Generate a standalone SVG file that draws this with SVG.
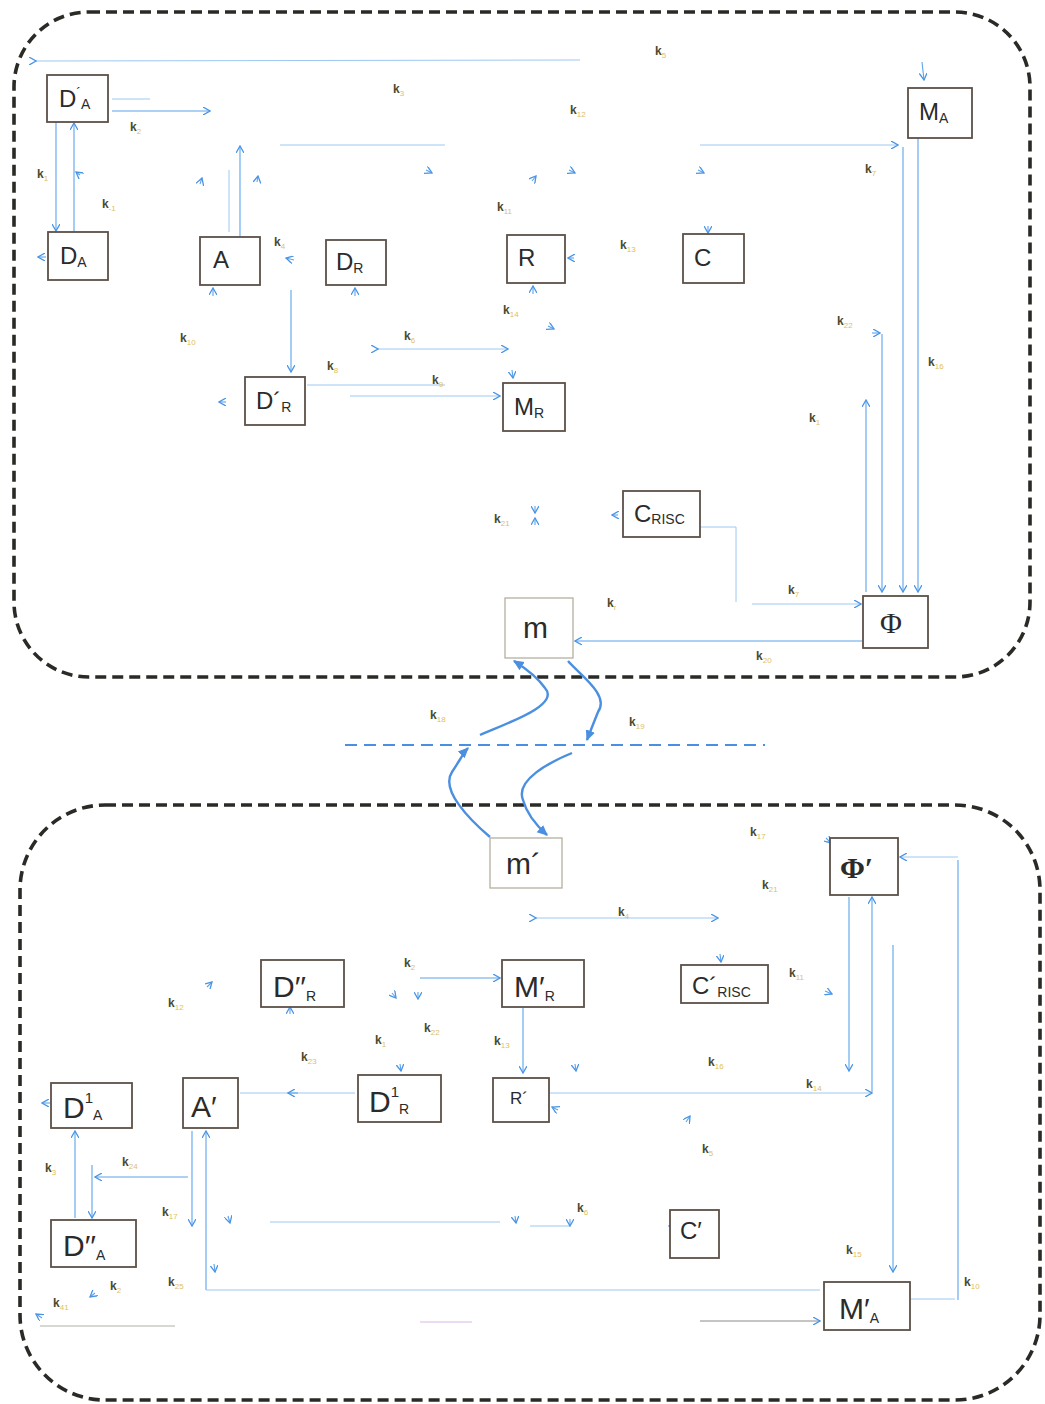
<svg xmlns="http://www.w3.org/2000/svg" width="1045" height="1404" viewBox="0 0 1045 1404">
<defs>
<marker id="ah" viewBox="0 0 8 8" refX="7" refY="4" markerWidth="8" markerHeight="8" orient="auto" markerUnits="userSpaceOnUse"><path d="M0,0 L7,4 L0,8" fill="none" stroke="#4a94e6" stroke-width="1.3"/></marker>
<marker id="ahb" viewBox="0 0 10 10" refX="8" refY="5" markerWidth="12" markerHeight="12" orient="auto" markerUnits="userSpaceOnUse"><path d="M0,1 L9,5 L0,9 Z" fill="#4a8fe0"/></marker>
<style>
.frame{fill:none;stroke:#2a2a26;stroke-width:3.6;stroke-dasharray:11 6}
.node rect{fill:#fff;stroke:#5c5048;stroke-width:1.8}
.lbl{font-family:"Liberation Sans",Arial,sans-serif;font-size:24px;fill:#2b2b2b}
.big{font-size:30px}
.phi{font-family:"Liberation Serif","Times New Roman",serif;font-size:30px}
.sub{font-size:14px}
.sup{font-size:15px}
.k{font-family:"Liberation Sans",Arial,sans-serif;font-size:12px;font-weight:bold;fill:#4a4a30}
.ks{font-size:8px;fill:#e0c060;font-weight:normal}
.c{fill:none;stroke:#5aa4ec;stroke-width:1.1}
.cf{fill:none;stroke:#9cc8f2;stroke-width:1}
.cw{fill:none;stroke:#4a8fe0;stroke-width:2.4}
.light rect{stroke:#b0a898;stroke-width:1.2}
</style>
</defs>
<rect width="1045" height="1404" fill="#fff"/>

<g id="frames">
<rect class="frame" x="14" y="12" width="1016" height="665" rx="75" ry="75"/>
<rect class="frame" x="20" y="805" width="1020" height="595" rx="85" ry="85"/>
<line x1="345" y1="745" x2="765" y2="745" stroke="#4a8fe0" stroke-width="2.2" stroke-dasharray="12 7"/>
</g>

<g id="connectors">
<line class="cf" x1="36" y1="61" x2="580" y2="60" marker-start="url(#ah)"/>
<line class="c" x1="922" y1="62" x2="924" y2="80" marker-end="url(#ah)"/>
<line class="c" x1="112" y1="111" x2="210" y2="111" marker-end="url(#ah)"/>
<line class="cf" x1="112" y1="99" x2="150" y2="99"/>
<line class="c" x1="56" y1="122" x2="56" y2="231" marker-end="url(#ah)"/>
<line class="c" x1="74" y1="232" x2="74" y2="123" marker-end="url(#ah)"/>
<line class="c" x1="240" y1="237" x2="240" y2="146" marker-end="url(#ah)"/>
<line class="cf" x1="229" y1="170" x2="229" y2="232"/>
<line class="cf" x1="280" y1="145" x2="445" y2="145"/>
<line class="cf" x1="700" y1="145" x2="898" y2="145" marker-end="url(#ah)"/>
<line class="c" x1="903" y1="147" x2="903" y2="592" marker-end="url(#ah)"/>
<line class="c" x1="918" y1="138" x2="918" y2="592" marker-end="url(#ah)"/>
<line class="c" x1="882" y1="334" x2="882" y2="592" marker-end="url(#ah)"/>
<line class="c" x1="872" y1="333" x2="880" y2="333" marker-end="url(#ah)"/>
<line class="c" x1="866" y1="592" x2="866" y2="400" marker-end="url(#ah)"/>
<polyline class="cf" points="701,527 736,527 736,602"/>
<line class="cf" x1="752" y1="604" x2="861" y2="604" marker-end="url(#ah)"/>
<line class="c" x1="862" y1="641" x2="575" y2="641" marker-end="url(#ah)"/>
<line class="c" x1="291" y1="290" x2="291" y2="372" marker-end="url(#ah)"/>
<line class="cf" x1="307" y1="385" x2="445" y2="385"/>
<line class="cf" x1="378" y1="349" x2="508" y2="349" marker-start="url(#ah)" marker-end="url(#ah)"/>
<line class="cf" x1="350" y1="396" x2="500" y2="396" marker-end="url(#ah)"/>
<line class="c" x1="512" y1="370" x2="513" y2="378" marker-end="url(#ah)"/>
<line class="c" x1="355" y1="296" x2="355" y2="288" marker-end="url(#ah)"/>
<line class="c" x1="533" y1="294" x2="533" y2="286" marker-end="url(#ah)"/>
<line class="c" x1="213" y1="296" x2="213" y2="288" marker-end="url(#ah)"/>
<line class="c" x1="574" y1="258" x2="568" y2="258" marker-end="url(#ah)"/>
<line class="c" x1="708" y1="226" x2="708" y2="233" marker-end="url(#ah)"/>
<line class="c" x1="46" y1="257" x2="38" y2="257" marker-end="url(#ah)"/>
<line class="c" x1="226" y1="402" x2="219" y2="402" marker-end="url(#ah)"/>
<line class="c" x1="294" y1="260" x2="286" y2="258" marker-end="url(#ah)"/>
<line class="c" x1="80" y1="175" x2="76" y2="172" marker-end="url(#ah)"/>
<line class="c" x1="200" y1="184" x2="202" y2="178" marker-end="url(#ah)"/>
<line class="c" x1="257" y1="182" x2="258" y2="176" marker-end="url(#ah)"/>
<line class="c" x1="426" y1="170" x2="432" y2="173" marker-end="url(#ah)"/>
<line class="c" x1="532" y1="181" x2="536" y2="176" marker-end="url(#ah)"/>
<line class="c" x1="569" y1="170" x2="575" y2="173" marker-end="url(#ah)"/>
<line class="c" x1="698" y1="170" x2="704" y2="173" marker-end="url(#ah)"/>
<line class="c" x1="548" y1="326" x2="554" y2="329" marker-end="url(#ah)"/>
<line class="c" x1="535" y1="506" x2="535" y2="513" marker-end="url(#ah)"/>
<line class="c" x1="535" y1="525" x2="535" y2="518" marker-end="url(#ah)"/>
<line class="c" x1="618" y1="515" x2="612" y2="515" marker-end="url(#ah)"/>
<line class="c" x1="916" y1="92" x2="909" y2="98" marker-end="url(#ah)"/>
<path class="cw" d="M490,837 C470,820 440,790 452,772 C460,760 464,752 468,748" marker-end="url(#ahb)"/>
<path class="cw" d="M480,735 C510,722 560,705 545,688 C538,678 525,668 514,661" marker-end="url(#ahb)"/>
<path class="cw" d="M568,661 C580,675 610,695 598,712 C594,722 590,732 587,740" marker-end="url(#ahb)"/>
<path class="cw" d="M572,753 C550,762 515,780 523,800 C527,815 537,826 547,835" marker-end="url(#ahb)"/>
<line class="cf" x1="536" y1="918" x2="718" y2="918" marker-start="url(#ah)" marker-end="url(#ah)"/>
<line class="c" x1="720" y1="954" x2="721" y2="962" marker-end="url(#ah)"/>
<line class="c" x1="420" y1="978" x2="500" y2="978" marker-end="url(#ah)"/>
<line class="c" x1="523" y1="1008" x2="523" y2="1073" marker-end="url(#ah)"/>
<line class="cf" x1="550" y1="1093" x2="872" y2="1093" marker-end="url(#ah)"/>
<line class="c" x1="872" y1="1092" x2="872" y2="897" marker-end="url(#ah)"/>
<line class="c" x1="849" y1="897" x2="849" y2="1071" marker-end="url(#ah)"/>
<line class="c" x1="893" y1="945" x2="893" y2="1272" marker-end="url(#ah)"/>
<line class="c" x1="958" y1="860" x2="958" y2="1300"/>
<line class="cf" x1="958" y1="857" x2="900" y2="857" marker-end="url(#ah)"/>
<line class="cf" x1="910" y1="1299" x2="955" y2="1299"/>
<line class="c" x1="826" y1="838" x2="831" y2="843" marker-end="url(#ah)"/>
<line class="c" x1="825" y1="991" x2="832" y2="994" marker-end="url(#ah)"/>
<line class="cf" x1="240" y1="1093" x2="355" y2="1093"/>
<line class="c" x1="298" y1="1093" x2="288" y2="1093" marker-end="url(#ah)"/>
<line class="c" x1="290" y1="1014" x2="290" y2="1007" marker-end="url(#ah)"/>
<line class="c" x1="207" y1="987" x2="212" y2="982" marker-end="url(#ah)"/>
<line class="c" x1="50" y1="1103" x2="42" y2="1103" marker-end="url(#ah)"/>
<line class="c" x1="75" y1="1218" x2="75" y2="1131" marker-end="url(#ah)"/>
<line class="c" x1="92" y1="1165" x2="92" y2="1218" marker-end="url(#ah)"/>
<line class="c" x1="188" y1="1177" x2="95" y2="1177" marker-end="url(#ah)"/>
<line class="c" x1="192" y1="1131" x2="192" y2="1226" marker-end="url(#ah)"/>
<line class="c" x1="206" y1="1290" x2="206" y2="1131" marker-end="url(#ah)"/>
<line class="cf" x1="206" y1="1290" x2="820" y2="1290"/>
<line class="c" x1="214" y1="1264" x2="215" y2="1272" marker-end="url(#ah)"/>
<line x1="40" y1="1326" x2="175" y2="1326" stroke="#b0b0a8" stroke-width="1.1"/>
<line class="c" x1="42" y1="1318" x2="36" y2="1314" marker-end="url(#ah)"/>
<line class="c" x1="95" y1="1293" x2="90" y2="1297" marker-end="url(#ah)"/>
<line x1="700" y1="1321" x2="820" y2="1321" stroke="#8a8a86" stroke-width="1" marker-end="url(#ah)"/>
<line x1="420" y1="1322" x2="472" y2="1322" stroke="#d8b8e8" stroke-width="1.2"/>
<line class="cf" x1="270" y1="1222" x2="500" y2="1222"/>
<line class="cf" x1="530" y1="1226" x2="570" y2="1226"/>
<line class="c" x1="228" y1="1216" x2="230" y2="1223" marker-end="url(#ah)"/>
<line class="c" x1="515" y1="1216" x2="516" y2="1223" marker-end="url(#ah)"/>
<line class="c" x1="570" y1="1219" x2="570" y2="1226" marker-end="url(#ah)"/>
<line class="c" x1="676" y1="1226" x2="669" y2="1226" marker-end="url(#ah)"/>
<line class="c" x1="686" y1="1122" x2="690" y2="1116" marker-end="url(#ah)"/>
<line class="c" x1="558" y1="1110" x2="552" y2="1107" marker-end="url(#ah)"/>
<line class="c" x1="392" y1="993" x2="396" y2="998" marker-end="url(#ah)"/>
<line class="c" x1="418" y1="992" x2="418" y2="999" marker-end="url(#ah)"/>
<line class="c" x1="400" y1="1064" x2="401" y2="1071" marker-end="url(#ah)"/>
<line class="c" x1="575" y1="1064" x2="576" y2="1071" marker-end="url(#ah)"/>
</g>

<g id="n-DpA" class="node"><rect x="47" y="75" width="61" height="47"/><text class="lbl" x="59" y="107">D<tspan dy="-9" class="sub">´</tspan><tspan class="sub" dy="11">A</tspan></text></g>
<g id="n-DA" class="node"><rect x="48" y="232" width="60" height="48"/><text class="lbl" x="60" y="264">D<tspan class="sub" dy="3">A</tspan></text></g>
<g id="n-A" class="node"><rect x="200" y="237" width="60" height="48"/><text class="lbl" x="213" y="268">A</text></g>
<g id="n-DR" class="node"><rect x="326" y="240" width="60" height="45"/><text class="lbl" x="336" y="270">D<tspan class="sub" dy="3">R</tspan></text></g>
<g id="n-R" class="node"><rect x="507" y="235" width="58" height="48"/><text class="lbl" x="518" y="266">R</text></g>
<g id="n-C" class="node"><rect x="683" y="234" width="61" height="49"/><text class="lbl" x="694" y="266">C</text></g>
<g id="n-MA" class="node"><rect x="908" y="88" width="64" height="50"/><text class="lbl" x="919" y="120">M<tspan class="sub" dy="3">A</tspan></text></g>
<g id="n-DpR" class="node"><rect x="245" y="377" width="60" height="48"/><text class="lbl" x="256" y="409">D´<tspan class="sub" dy="3">R</tspan></text></g>
<g id="n-MR" class="node"><rect x="503" y="383" width="62" height="48"/><text class="lbl" x="514" y="415">M<tspan class="sub" dy="3">R</tspan></text></g>
<g id="n-CRISC" class="node"><rect x="623" y="491" width="77" height="46"/><text class="lbl" x="634" y="522">C<tspan class="sub" dy="2">RISC</tspan></text></g>
<g id="n-Phi" class="node"><rect x="863" y="596" width="65" height="52"/><text class="lbl phi" x="880" y="633">Φ</text></g>
<g id="n-m" class="node light"><rect x="505" y="598" width="68" height="60"/><text class="lbl big" x="523" y="638">m</text></g>

<g id="n-mp" class="node light"><rect x="490" y="838" width="72" height="50"/><text class="lbl big" x="506" y="874">m´</text></g>
<g id="n-Phip" class="node"><rect x="830" y="838" width="68" height="57"/><text class="lbl phi" x="840" y="878" font-weight="bold">Φ′</text></g>
<g id="n-DppR" class="node"><rect x="261" y="960" width="83" height="47"/><text class="lbl big" x="273" y="997">D′′<tspan class="sub" dy="4">R</tspan></text></g>
<g id="n-MpR" class="node"><rect x="502" y="960" width="82" height="47"/><text class="lbl big" x="514" y="997">M′<tspan class="sub" dy="4">R</tspan></text></g>
<g id="n-CpRISC" class="node"><rect x="681" y="965" width="87" height="38"/><text class="lbl" x="692" y="994">C´<tspan class="sub" dy="3">RISC</tspan></text></g>
<g id="n-D1A" class="node"><rect x="51" y="1083" width="81" height="45"/><text class="lbl big" x="63" y="1118">D<tspan class="sup" dy="-15">1</tspan><tspan class="sub" dy="17">A</tspan></text></g>
<g id="n-Ap" class="node"><rect x="183" y="1078" width="55" height="50"/><text class="lbl big" x="191" y="1117">A′</text></g>
<g id="n-D1R" class="node"><rect x="358" y="1075" width="83" height="47"/><text class="lbl big" x="369" y="1112">D<tspan class="sup" dy="-15">1</tspan><tspan class="sub" dy="17">R</tspan></text></g>
<g id="n-Rp" class="node"><rect x="493" y="1078" width="56" height="44"/><text class="lbl" x="510" y="1104" style="font-size:17px">R´</text></g>
<g id="n-Cp" class="node"><rect x="670" y="1210" width="49" height="48"/><text class="lbl" x="680" y="1239">C′</text></g>
<g id="n-DppA" class="node"><rect x="51" y="1220" width="85" height="47"/><text class="lbl big" x="63" y="1256">D′′<tspan class="sub" dy="4">A</tspan></text></g>
<g id="n-MpA" class="node"><rect x="824" y="1282" width="86" height="48"/><text class="lbl big" x="839" y="1319">M′<tspan class="sub" dy="4">A</tspan></text></g>

<g id="labels">
<text class="k" x="655" y="55">k<tspan class="ks" dy="3">5</tspan></text>
<text class="k" x="393" y="93">k<tspan class="ks" dy="3">3</tspan></text>
<text class="k" x="570" y="114">k<tspan class="ks" dy="3">12</tspan></text>
<text class="k" x="130" y="131">k<tspan class="ks" dy="3">2</tspan></text>
<text class="k" x="37" y="178">k<tspan class="ks" dy="3">1</tspan></text>
<text class="k" x="102" y="208">k<tspan class="ks" dy="3">-1</tspan></text>
<text class="k" x="865" y="173">k<tspan class="ks" dy="3">7</tspan></text>
<text class="k" x="497" y="211">k<tspan class="ks" dy="3">11</tspan></text>
<text class="k" x="274" y="246">k<tspan class="ks" dy="3">4</tspan></text>
<text class="k" x="620" y="249">k<tspan class="ks" dy="3">13</tspan></text>
<text class="k" x="503" y="314">k<tspan class="ks" dy="3">14</tspan></text>
<text class="k" x="837" y="325">k<tspan class="ks" dy="3">22</tspan></text>
<text class="k" x="180" y="342">k<tspan class="ks" dy="3">10</tspan></text>
<text class="k" x="404" y="340">k<tspan class="ks" dy="3">6</tspan></text>
<text class="k" x="928" y="366">k<tspan class="ks" dy="3">16</tspan></text>
<text class="k" x="327" y="370">k<tspan class="ks" dy="3">8</tspan></text>
<text class="k" x="432" y="384">k<tspan class="ks" dy="3">9</tspan></text>
<text class="k" x="809" y="422">k<tspan class="ks" dy="3">1</tspan></text>
<text class="k" x="494" y="523">k<tspan class="ks" dy="3">21</tspan></text>
<text class="k" x="788" y="594">k<tspan class="ks" dy="3">7</tspan></text>
<text class="k" x="607" y="607">k<tspan class="ks" dy="3">r</tspan></text>
<text class="k" x="756" y="660">k<tspan class="ks" dy="3">20</tspan></text>
<text class="k" x="430" y="719">k<tspan class="ks" dy="3">18</tspan></text>
<text class="k" x="629" y="726">k<tspan class="ks" dy="3">19</tspan></text>
<text class="k" x="750" y="836">k<tspan class="ks" dy="3">17</tspan></text>
<text class="k" x="762" y="889">k<tspan class="ks" dy="3">21</tspan></text>
<text class="k" x="618" y="916">k<tspan class="ks" dy="3">4</tspan></text>
<text class="k" x="404" y="967">k<tspan class="ks" dy="3">2</tspan></text>
<text class="k" x="789" y="977">k<tspan class="ks" dy="3">11</tspan></text>
<text class="k" x="168" y="1007">k<tspan class="ks" dy="3">12</tspan></text>
<text class="k" x="424" y="1032">k<tspan class="ks" dy="3">22</tspan></text>
<text class="k" x="375" y="1044">k<tspan class="ks" dy="3">1</tspan></text>
<text class="k" x="494" y="1045">k<tspan class="ks" dy="3">13</tspan></text>
<text class="k" x="301" y="1061">k<tspan class="ks" dy="3">23</tspan></text>
<text class="k" x="708" y="1066">k<tspan class="ks" dy="3">16</tspan></text>
<text class="k" x="806" y="1088">k<tspan class="ks" dy="3">14</tspan></text>
<text class="k" x="702" y="1153">k<tspan class="ks" dy="3">5</tspan></text>
<text class="k" x="45" y="1172">k<tspan class="ks" dy="3">3</tspan></text>
<text class="k" x="122" y="1166">k<tspan class="ks" dy="3">24</tspan></text>
<text class="k" x="162" y="1216">k<tspan class="ks" dy="3">17</tspan></text>
<text class="k" x="577" y="1212">k<tspan class="ks" dy="3">6</tspan></text>
<text class="k" x="846" y="1254">k<tspan class="ks" dy="3">15</tspan></text>
<text class="k" x="964" y="1286">k<tspan class="ks" dy="3">10</tspan></text>
<text class="k" x="110" y="1290">k<tspan class="ks" dy="3">2</tspan></text>
<text class="k" x="168" y="1286">k<tspan class="ks" dy="3">25</tspan></text>
<text class="k" x="53" y="1307">k<tspan class="ks" dy="3">41</tspan></text>
</g>
</svg>
